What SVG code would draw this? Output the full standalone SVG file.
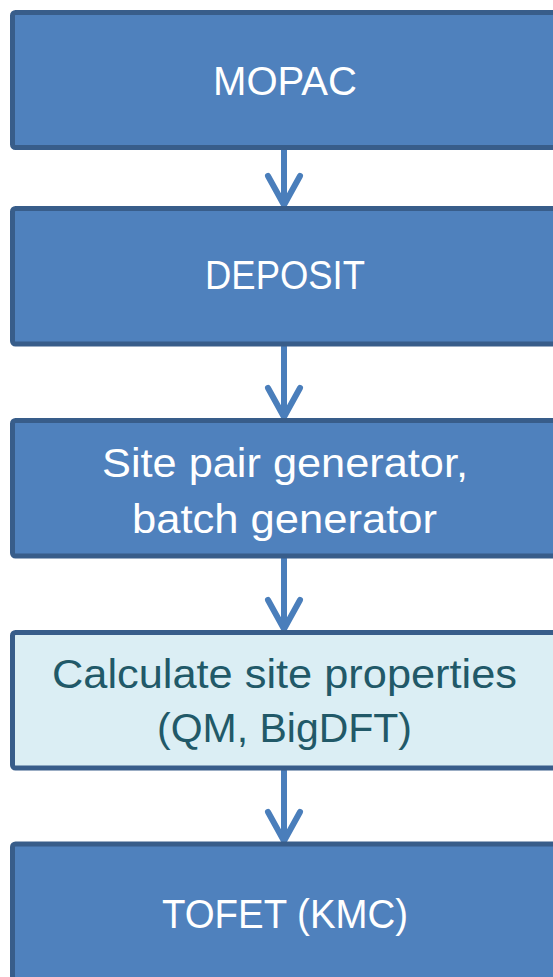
<svg xmlns="http://www.w3.org/2000/svg" width="553" height="977" viewBox="0 0 553 977">
<style>
.box{fill:#4F81BD;stroke:#385D8A;stroke-width:5}
.light{fill:#DBEEF4;stroke:#385D8A;stroke-width:5}
.t{font-family:"Liberation Sans",Arial,sans-serif;font-size:40px;fill:#FFFFFF;text-anchor:middle}
.tl{font-family:"Liberation Sans",Arial,sans-serif;font-size:40px;fill:#215968;text-anchor:middle}
.arr{fill:none;stroke:#4A7EBB;stroke-width:6;stroke-linecap:round;stroke-linejoin:miter}
</style>
<rect width="553" height="977" fill="#FFFFFF"/>
<g id="connectors">
<path class="arr" d="M284 150V204M268 176L284 205L300 176"/>
<path class="arr" d="M284 347V416M268 388L284 417L300 388"/>
<path class="arr" d="M284 559V628M268 600L284 629L300 600"/>
<path class="arr" d="M284 771V840M268 812L284 841L300 812"/>
</g>
<g id="mopac">
<rect class="box" x="12.5" y="12.5" width="545" height="135" rx="3"/>
<text class="t" x="285" y="95" textLength="144" lengthAdjust="spacingAndGlyphs">MOPAC</text>
</g>
<g id="deposit">
<rect class="box" x="12.5" y="208.5" width="545" height="135.5" rx="3"/>
<text class="t" x="285" y="289" textLength="160" lengthAdjust="spacingAndGlyphs">DEPOSIT</text>
</g>
<g id="generator">
<rect class="box" x="12.5" y="420.5" width="545" height="135.5" rx="3"/>
<text class="t" x="285" y="477" textLength="366" lengthAdjust="spacingAndGlyphs">Site pair generator,</text>
<text class="t" x="284.5" y="533" textLength="305" lengthAdjust="spacingAndGlyphs">batch generator</text>
</g>
<g id="siteprops">
<rect class="light" x="12.5" y="632.5" width="545" height="135.5" rx="3"/>
<text class="tl" x="284.5" y="688" textLength="465" lengthAdjust="spacingAndGlyphs">Calculate site properties</text>
<text class="tl" x="284.5" y="742" textLength="255" lengthAdjust="spacingAndGlyphs">(QM, BigDFT)</text>
</g>
<g id="tofet">
<rect class="box" x="12.5" y="844" width="545" height="135.5" rx="3"/>
<text class="t" x="285" y="928" textLength="246" lengthAdjust="spacingAndGlyphs">TOFET (KMC)</text>
</g>
</svg>
